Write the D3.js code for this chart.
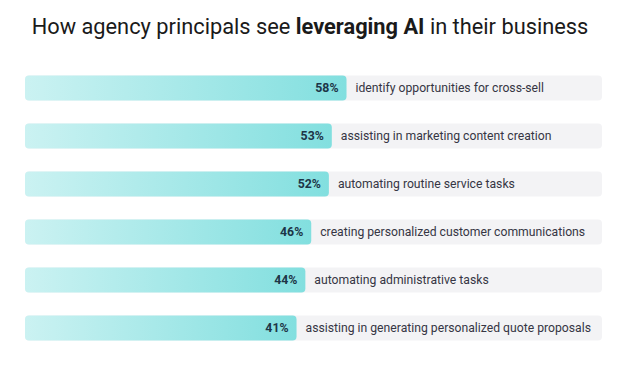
<!DOCTYPE html>
<html>
<head>
<meta charset="utf-8">
<script src="https://cdn.jsdelivr.net/npm/d3@7"></script>
<style>
  html, body { margin: 0; padding: 0; background: #fff; }
  svg { display: block; font-family: Roboto, "Open Sans", sans-serif; }
</style>
</head>
<body>
<div id="chart"></div>
<script>
/* Horizontal bars on a grey track, percent inside, label after the bar. */

var labels = [
  "identify opportunities for cross-sell",
  "assisting in marketing content creation",
  "automating routine service tasks",
  "creating personalized customer communications",
  "automating administrative tasks",
  "assisting in generating personalized quote proposals"
];
var values = [58, 53, 52, 46, 44, 41];

var width = 624, height = 387;
var trackLeft = 25, trackRight = 602;

var svg = d3.select("#chart").append("svg")
  .attr("width", width).attr("height", height);

var defs = svg.append("defs");
var grad = defs.append("linearGradient").attr("id", "barGrad")
  .attr("x1", "0%").attr("x2", "100%").attr("y1", "0%").attr("y2", "0%");
grad.append("stop").attr("offset", "0%").attr("stop-color", "#cbf2f2");
grad.append("stop").attr("offset", "100%").attr("stop-color", "#82dfdf");

/* title with bold middle part */
var title = svg.append("text")
  .attr("x", width / 2 - 2).attr("y", 34)
  .attr("text-anchor", "middle")
  .attr("font-size", 21.8).attr("fill", "#1a1a1a");
title.append("tspan").text("How agency principals see ");
title.append("tspan").attr("font-weight", 700).text("leveraging AI");
title.append("tspan").text(" in their business");

var x = d3.scaleLinear().domain([0, 100]).range([176, 470]);
var y = d3.scaleBand().domain(labels).range([64, 352]).paddingInner(0.48).paddingOuter(0.24);

var rows = svg.selectAll("g.row").data(labels).enter().append("g").attr("class", "row");

rows.append("rect")
  .attr("x", trackLeft).attr("y", function (d) { return y(d); })
  .attr("width", trackRight - trackLeft).attr("height", y.bandwidth())
  .attr("rx", 4).attr("fill", "#f3f3f5");

rows.append("rect")
  .attr("x", trackLeft).attr("y", function (d) { return y(d); })
  .attr("width", function (d, i) { return x(values[i]) - trackLeft; })
  .attr("height", y.bandwidth())
  .attr("rx", 4).attr("fill", "url(#barGrad)");

rows.append("text")
  .attr("x", function (d, i) { return x(values[i]) - 8; })
  .attr("y", function (d) { return y(d) + y.bandwidth() / 2; })
  .attr("dy", "0.35em").attr("text-anchor", "end")
  .attr("font-size", 12.3).attr("font-weight", 700).attr("fill", "#1d3547")
  .text(function (d, i) { return values[i] + "%"; });

rows.append("text")
  .attr("x", function (d, i) { return x(values[i]) + 9; })
  .attr("y", function (d) { return y(d) + y.bandwidth() / 2; })
  .attr("dy", "0.35em")
  .attr("font-size", 12.2).attr("fill", "#363644")
  .text(function (d) { return d; });
</script>
</body>
</html>
